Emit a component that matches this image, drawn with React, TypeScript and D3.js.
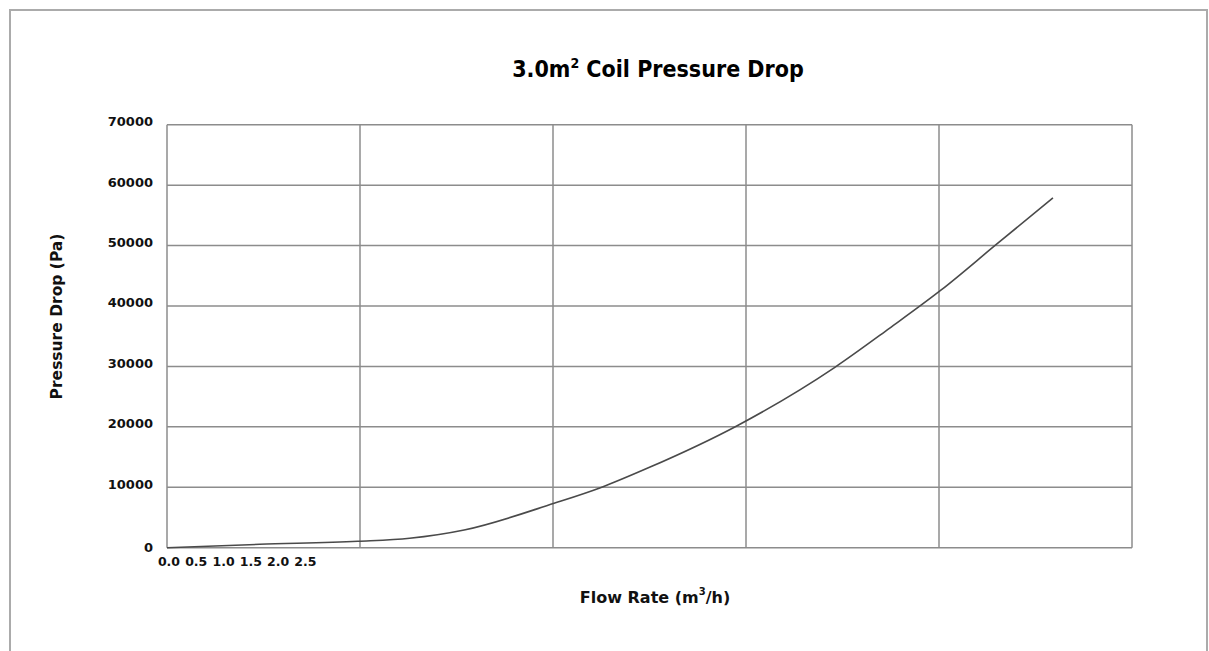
import React from "react"
import * as d3 from "d3"

// values
const flowRate = [0, 1.7, 3.5, 4.45, 5.45, 7.1, 7.95, 8.85, 10.45, 12.25, 13.25, 14.2, 15.2, 16.25]
const pressureDrop = [0, 560, 1060, 1560, 2930, 7350, 9930, 13300, 20150, 29850, 36300, 42650, 50100, 57900]
const xTickValues = [0, 0.5, 1.0, 1.5, 2.0, 2.5]
const yTickValues = [0, 10000, 20000, 30000, 40000, 50000, 60000, 70000]
const X_MAX = 17.7
const Y_MAX = 70000
const X_GRID_DIVISIONS = 5

const W = 1209
const H = 651
const margin = {top: 124.7, right: 77, bottom: 103.3, left: 167}

const App = () => {
    const innerW = W - margin.left - margin.right
    const innerH = H - margin.top - margin.bottom

    const x = d3.scaleLinear().domain([0, X_MAX]).range([margin.left, margin.left + innerW])
    const y = d3.scaleLinear().domain([0, Y_MAX]).range([margin.top + innerH, margin.top])

    const xGrid = d3.range(X_GRID_DIVISIONS + 1).map(i => X_MAX * i / X_GRID_DIVISIONS)

    const points: [number, number][] = flowRate.map((f, i) => [f, pressureDrop[i]])
    const line = d3.line<[number, number]>()
        .x(d => x(d[0]))
        .y(d => y(d[1]))
        .curve(d3.curveMonotoneX)

    const gridColor = "#8c8c8c"
    const labelFont = "'DejaVu Sans', Verdana, sans-serif"

    return (
        <svg width={W} height={H} style={{position: "absolute", left: 0, top: 0, background: "#fff"}}>
            <rect x={10} y={10} width={1197} height={700} fill="#fff" stroke="#ababab" strokeWidth={2} />

            <text x={658} y={77} textAnchor="middle" fontFamily="'DejaVu Sans Condensed', 'DejaVu Sans', sans-serif"
                  fontWeight="bold" fontSize={23} fill="#000">
                3.0m<tspan fontSize={14} dy={-9}>2</tspan><tspan dy={9}> Coil Pressure Drop</tspan>
            </text>

            {/* horizontal grid */}
            {yTickValues.map(v => (
                <line key={"h" + v} x1={margin.left} x2={margin.left + innerW} y1={y(v)} y2={y(v)}
                      stroke={gridColor} strokeWidth={1.5} />
            ))}
            {/* vertical grid */}
            {xGrid.map((v, i) => (
                <line key={"v" + i} x1={x(v)} x2={x(v)} y1={margin.top} y2={margin.top + innerH}
                      stroke={gridColor} strokeWidth={1.5} />
            ))}

            {/* y tick labels */}
            {yTickValues.map(v => (
                <text key={"yt" + v} x={margin.left - 14} y={y(v) + (v === 0 ? 4.5 : 1.5)} textAnchor="end"
                      fontFamily={labelFont} fontWeight="bold" fontSize={13} fill="#111">
                    {v}
                </text>
            ))}

            {/* x tick labels */}
            {xTickValues.map(v => (
                <text key={"xt" + v} x={x(v) + 2} y={566} textAnchor="middle"
                      fontFamily={labelFont} fontWeight="bold" fontSize={12.5} fill="#111">
                    {v.toFixed(1)}
                </text>
            ))}

            <path d={line(points) || ""} fill="none" stroke="#4a4a4a" strokeWidth={1.6} />

            <text transform={`translate(62,316.5) rotate(-90)`} textAnchor="middle"
                  fontFamily={labelFont} fontWeight="bold" fontSize={15.5} fill="#111">
                Pressure Drop (Pa)
            </text>

            <text x={655} y={603} textAnchor="middle" fontFamily={labelFont} fontWeight="bold" fontSize={16} fill="#111">
                Flow Rate (m<tspan fontSize={10} dy={-8}>3</tspan><tspan dy={8}>/h)</tspan>
            </text>
        </svg>
    )
}

export default App
